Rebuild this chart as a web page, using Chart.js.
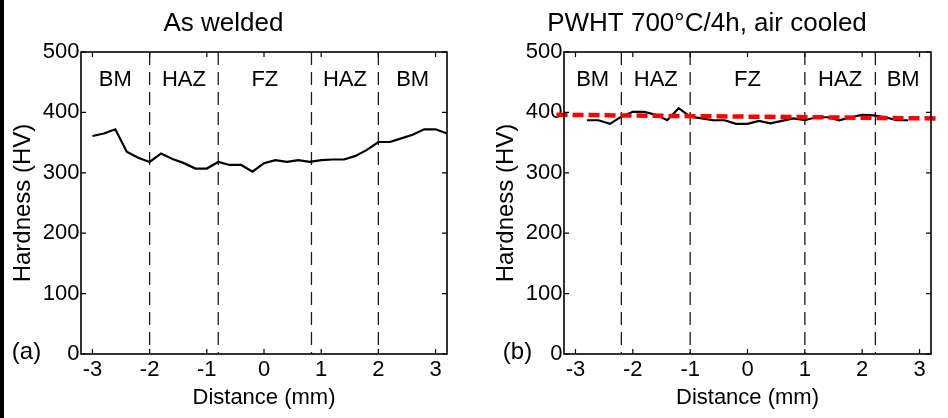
<!DOCTYPE html>
<html>
<head>
<meta charset="utf-8">
<script src="https://cdn.jsdelivr.net/npm/chart.js@4.4.0/dist/chart.umd.min.js"></script>
<style>
    body { margin: 0; background: #fff; }
    #wrap { position: relative; width: 948px; height: 418px; overflow: hidden; }
    #chartA { position: absolute; left: 0; top: 0; }
    #chartB { position: absolute; left: 483px; top: 0; }
    .edge { position: absolute; left: 0; top: 0; width: 4px; height: 418px; background: #000; }
</style>
</head>
<body>
<div id="wrap">
    <canvas id="chartA" width="474" height="418"></canvas>
    <canvas id="chartB" width="465" height="418"></canvas>
    <div class="edge"></div>
</div>
<script>
    // distance from weld centre (mm)
    var asWeldedX = [-3.0, -2.8, -2.6, -2.4, -2.2, -2.0, -1.8, -1.6, -1.4, -1.2, -1.0, -0.8, -0.6, -0.4, -0.2, 0.0,
        0.2, 0.4, 0.6, 0.8, 1.0, 1.2, 1.4, 1.6, 1.8, 2.0, 2.2, 2.4, 2.6, 2.8, 3.0, 3.2];
    var asWeldedHV = [361, 365, 372, 335, 325, 318, 332, 323, 316, 307, 307, 318, 313, 313, 302, 316,
        321, 318, 321, 318, 321, 322, 322, 328, 338, 351, 351, 357, 363, 372, 372, 365];

    var pwhtX = [-2.8, -2.6, -2.4, -2.2, -2.0, -1.8, -1.6, -1.4, -1.2, -1.0, -0.8, -0.6, -0.4, -0.2, 0.0,
        0.2, 0.4, 0.6, 0.8, 1.0, 1.2, 1.4, 1.6, 1.8, 2.0, 2.2, 2.4, 2.6, 2.8];
    var pwhtHV = [387, 387, 381, 393, 401, 401, 396, 387, 407, 393, 390, 387, 387, 381, 381,
        386, 382, 386, 390, 387, 392, 392, 387, 392, 396, 395, 392, 387, 387];

    // mean hardness line after PWHT (ends)
    var meanLineX = [-3.33, 3.28];
    var meanLineHV = [396, 390];

    // zone boundaries and names
    var asWeldedBounds = [-2.0, -0.8, 0.83, 2.0];
    var pwhtBounds = [-2.2, -1.0, 1.0, 2.23];
    var zoneNames = ['BM', 'HAZ', 'FZ', 'HAZ', 'BM'];

    var xTicks = [-3, -2, -1, 0, 1, 2, 3];
    var yTicks = [0, 100, 200, 300, 400, 500];

    var FONT = '"Liberation Sans", Arial, Helvetica, sans-serif';
    Chart.defaults.font.family = FONT;
    Chart.defaults.color = '#000';

    function toPoints(xs, ys) {
        return xs.map(function (x, i) { return {x: x, y: ys[i]}; });
    }

    // frame, inward ticks, zone names and panel letter
    var panelPlugin = {
        id: 'panelDeco',
        afterDraw: function (chart) {
            var opts = chart.options.plugins.panelDeco;
            var ctx = chart.ctx;
            var a = chart.chartArea;
            var xs = chart.scales.x, ys = chart.scales.y;
            ctx.save();
            ctx.strokeStyle = '#000';
            ctx.lineWidth = 1.6;
            ctx.strokeRect(a.left, a.top, a.right - a.left, a.bottom - a.top);
            ctx.lineWidth = 1.2;
            ctx.beginPath();
            xs.ticks.forEach(function (t) {
                var px = xs.getPixelForValue(t.value);
                ctx.moveTo(px, a.bottom); ctx.lineTo(px, a.bottom - 5);
                ctx.moveTo(px, a.top); ctx.lineTo(px, a.top + 5);
            });
            ys.ticks.forEach(function (t) {
                var py = ys.getPixelForValue(t.value);
                ctx.moveTo(a.left, py); ctx.lineTo(a.left + 5, py);
                ctx.moveTo(a.right, py); ctx.lineTo(a.right - 5, py);
            });
            ctx.stroke();

            // zone names centred between boundaries
            var edges = [xs.min].concat(opts.bounds).concat([xs.max]);
            ctx.fillStyle = '#000';
            ctx.font = '22px ' + FONT;
            ctx.textAlign = 'center';
            ctx.textBaseline = 'middle';
            var ly = ys.getPixelForValue(opts.nameLevel);
            opts.names.forEach(function (n, i) {
                var mid = (edges[i] + edges[i + 1]) / 2;
                ctx.fillText(n, xs.getPixelForValue(mid), ly);
            });

            ctx.font = '24px ' + FONT;
            ctx.fillText(opts.letter, opts.letterX, opts.letterY);
            ctx.restore();
        }
    };

    function makeOptions(title, padRight, bounds, letter, letterX) {
        return {
            responsive: false,
            animation: false,
            devicePixelRatio: 1,
            layout: {padding: {left: 0, right: padRight, top: 0, bottom: 0}},
            plugins: {
                legend: {display: false},
                tooltip: {enabled: false},
                title: {
                    display: true,
                    text: title,
                    color: '#000',
                    font: {size: 26, weight: 'normal'},
                    padding: {top: 8.4, bottom: 12.4}
                },
                panelDeco: {
                    bounds: bounds,
                    names: zoneNames,
                    nameLevel: 454,
                    letter: letter,
                    letterX: letterX,
                    letterY: 352
                }
            },
            scales: {
                x: {
                    type: 'linear',
                    min: -3.2,
                    max: 3.2,
                    afterFit: function (s) { s.height = 64; },
                    afterBuildTicks: function (s) {
                        s.ticks = xTicks.map(function (v) { return {value: v}; });
                    },
                    grid: {display: false, drawTicks: false},
                    border: {display: false},
                    ticks: {
                        padding: 3,
                        font: {size: 22},
                        color: '#000',
                        includeBounds: false,
                        maxRotation: 0
                    },
                    title: {
                        display: true,
                        text: 'Distance (mm)',
                        color: '#000',
                        font: {size: 22},
                        padding: {top: 0, bottom: 7}
                    }
                },
                y: {
                    type: 'linear',
                    min: 0,
                    max: 500,
                    afterFit: function (s) { s.width = 81; },
                    afterBuildTicks: function (s) {
                        s.ticks = yTicks.map(function (v) { return {value: v}; });
                    },
                    grid: {display: false, drawTicks: false},
                    border: {display: false},
                    ticks: {
                        padding: 1.5,
                        font: {size: 22},
                        color: '#000'
                    },
                    title: {
                        display: true,
                        text: 'Hardness (HV)',
                        color: '#000',
                        font: {size: 24},
                        padding: {top: 9, bottom: 0}
                    }
                }
            }
        };
    }

    function boundaryDatasets(bounds) {
        return bounds.map(function (b) {
            return {
                data: [{x: b, y: 500}, {x: b, y: 0}],
                borderColor: '#1a1a1a',
                borderWidth: 1.3,
                borderDash: [13, 7],
                pointRadius: 0,
                showLine: true,
                order: 3
            };
        });
    }

    function renderAsWeldedChart() {
        var ctx = document.getElementById('chartA');
        var datasets = [{
            data: toPoints(asWeldedX, asWeldedHV),
            borderColor: '#000',
            borderWidth: 2.2,
            pointRadius: 0,
            showLine: true,
            tension: 0,
            order: 1
        }].concat(boundaryDatasets(asWeldedBounds));
        return new Chart(ctx, {
            type: 'scatter',
            data: {datasets: datasets},
            options: makeOptions('As welded', 27, asWeldedBounds, '(a)', 26.5),
            plugins: [panelPlugin]
        });
    }

    function renderPwhtChart() {
        var ctx = document.getElementById('chartB');
        var datasets = [{
            data: toPoints(meanLineX, meanLineHV),
            borderColor: '#ff0000',
            borderWidth: 4.5,
            borderDash: [11, 5],
            pointRadius: 0,
            showLine: true,
            clip: false,
            order: 0
        }, {
            data: toPoints(pwhtX, pwhtHV),
            borderColor: '#000',
            borderWidth: 2.2,
            pointRadius: 0,
            showLine: true,
            tension: 0,
            order: 1
        }].concat(boundaryDatasets(pwhtBounds));
        return new Chart(ctx, {
            type: 'scatter',
            data: {datasets: datasets},
            options: makeOptions('PWHT 700°C/4h, air cooled', 17, pwhtBounds, '(b)', 34.5),
            plugins: [panelPlugin]
        });
    }

    renderAsWeldedChart();
    renderPwhtChart();
</script>
</body>
</html>
